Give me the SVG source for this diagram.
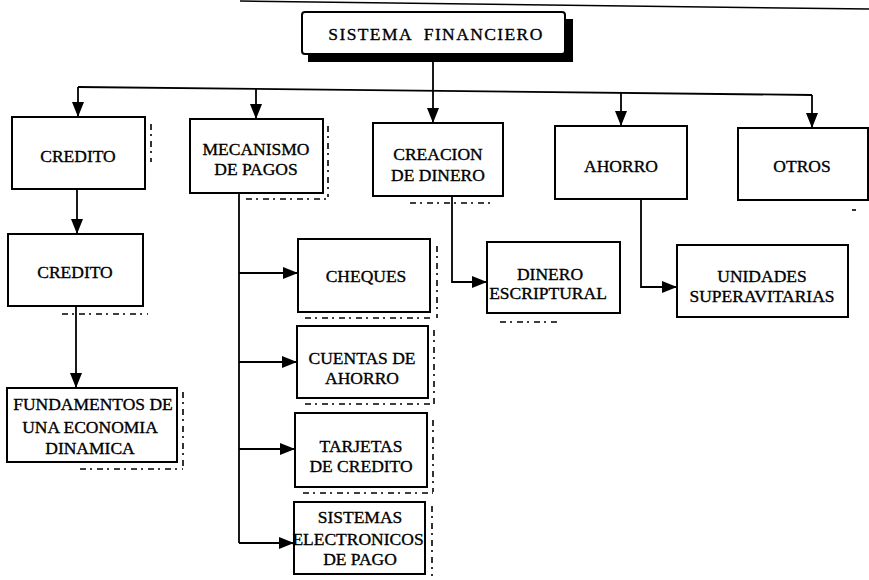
<svg xmlns="http://www.w3.org/2000/svg" width="869" height="580" viewBox="0 0 869 580">
  <style>
    .box { fill: #fff; stroke: #000; stroke-width: 2; }
    .lbl { font-family: "Liberation Serif", "Times New Roman", serif; font-size: 17.5px; fill: #000; stroke: #000; stroke-width: 0.35; text-anchor: middle; }
    .wire { fill: none; stroke: #000; stroke-width: 1.8; }
    .arr { marker-end: url(#head); }
    .ghost { fill: none; stroke: #000; stroke-width: 1.6; stroke-dasharray: 6 4 2 5; }
  </style>
  <defs>
    <marker id="head" markerUnits="userSpaceOnUse" markerWidth="16" markerHeight="12" refX="15" refY="6" orient="auto">
      <path d="M0,0 L15,6 L0,12 Z" fill="#000"/>
    </marker>
  </defs>

  <!-- rule along the top edge -->
  <line x1="240" y1="1" x2="869" y2="9" stroke="#000" stroke-width="1.5"/>

  <!-- connectors -->
  <g id="connectors">
    <line class="wire" x1="433" y1="62" x2="433" y2="91"/>
    <line class="wire" x1="78" y1="87" x2="812" y2="95"/>
    <line class="wire arr" x1="78" y1="87" x2="78" y2="117"/>
    <line class="wire arr" x1="256" y1="89" x2="256" y2="119"/>
    <line class="wire arr" x1="433" y1="91" x2="433" y2="123"/>
    <line class="wire arr" x1="621" y1="93" x2="621" y2="126"/>
    <line class="wire arr" x1="812" y1="95" x2="812" y2="128"/>

    <line class="wire arr" x1="77" y1="189" x2="77" y2="234"/>
    <line class="wire arr" x1="76" y1="306" x2="76" y2="388"/>

    <line class="wire" x1="239" y1="193" x2="239" y2="543"/>
    <line class="wire arr" x1="239" y1="273" x2="298" y2="273"/>
    <line class="wire arr" x1="239" y1="362" x2="297" y2="362"/>
    <line class="wire arr" x1="239" y1="449" x2="295" y2="449"/>
    <line class="wire arr" x1="239" y1="543" x2="294" y2="543"/>

    <polyline class="wire arr" points="452,196 452,282 487,282"/>
    <polyline class="wire arr" points="641,199 641,287 677,287"/>
  </g>

  <!-- nodes -->
  <g id="sistema-financiero">
    <rect x="308" y="19" width="265" height="43" fill="#000"/>
    <rect class="box" x="302" y="12" width="263" height="42" rx="3"/>
    <text class="lbl" x="436" y="40" style="letter-spacing:1.4px; word-spacing:6px">SISTEMA FINANCIERO</text>
  </g>

  <g id="credito">
    <rect class="box" x="12" y="117" width="133" height="72"/>
    <line class="ghost" x1="151" y1="124" x2="151" y2="162"/>
    <text class="lbl" x="78" y="162">CREDITO</text>
  </g>

  <g id="mecanismo-de-pagos">
    <rect class="box" x="190" y="119" width="133" height="74"/>
    <line class="ghost" x1="328" y1="126" x2="328" y2="197"/>
    <line class="ghost" x1="246" y1="199" x2="328" y2="199"/>
    <text class="lbl" x="256" y="155">MECANISMO</text>
    <text class="lbl" x="256" y="175">DE PAGOS</text>
  </g>

  <g id="creacion-de-dinero">
    <rect class="box" x="373" y="123" width="130" height="73"/>
    <line class="ghost" x1="410" y1="203" x2="492" y2="203"/>
    <text class="lbl" x="438" y="160">CREACION</text>
    <text class="lbl" x="438" y="181">DE DINERO</text>
  </g>

  <g id="ahorro">
    <rect class="box" x="555" y="126" width="132" height="73"/>
    <text class="lbl" x="621" y="172">AHORRO</text>
  </g>

  <g id="otros">
    <rect class="box" x="738" y="128" width="130" height="72"/>
    <line class="ghost" x1="852" y1="210" x2="856" y2="210"/>
    <text class="lbl" x="802" y="172">OTROS</text>
  </g>

  <g id="credito-2">
    <rect class="box" x="8" y="234" width="135" height="72"/>
    <line class="ghost" x1="62" y1="314" x2="148" y2="314"/>
    <text class="lbl" x="75" y="278">CREDITO</text>
  </g>

  <g id="fundamentos">
    <rect class="box" x="7" y="388" width="170" height="74"/>
    <line class="ghost" x1="183" y1="392" x2="183" y2="468"/>
    <line class="ghost" x1="80" y1="469" x2="183" y2="469"/>
    <text class="lbl" x="93" y="410">FUNDAMENTOS DE</text>
    <text class="lbl" x="90" y="433">UNA ECONOMIA</text>
    <text class="lbl" x="90" y="454">DINAMICA</text>
  </g>

  <g id="cheques">
    <rect class="box" x="298" y="239" width="132" height="73"/>
    <line class="ghost" x1="437" y1="246" x2="437" y2="318"/>
    <line class="ghost" x1="305" y1="318" x2="430" y2="318"/>
    <text class="lbl" x="366" y="282">CHEQUES</text>
  </g>

  <g id="cuentas-de-ahorro">
    <rect class="box" x="297" y="326" width="131" height="72"/>
    <line class="ghost" x1="434" y1="330" x2="434" y2="404"/>
    <line class="ghost" x1="305" y1="404" x2="434" y2="404"/>
    <text class="lbl" x="362" y="364">CUENTAS DE</text>
    <text class="lbl" x="362" y="384">AHORRO</text>
  </g>

  <g id="tarjetas-de-credito">
    <rect class="box" x="295" y="413" width="132" height="74"/>
    <line class="ghost" x1="433" y1="420" x2="433" y2="492"/>
    <line class="ghost" x1="303" y1="493" x2="433" y2="493"/>
    <text class="lbl" x="361" y="452">TARJETAS</text>
    <text class="lbl" x="361" y="472">DE CREDITO</text>
  </g>

  <g id="sistemas-electronicos">
    <rect class="box" x="294" y="502" width="131" height="72"/>
    <line class="ghost" x1="432" y1="506" x2="432" y2="576"/>
    <text class="lbl" x="360" y="523">SISTEMAS</text>
    <text class="lbl" x="358" y="545">ELECTRONICOS</text>
    <text class="lbl" x="360" y="565">DE PAGO</text>
  </g>

  <g id="dinero-escritural">
    <rect class="box" x="487" y="242" width="133" height="71"/>
    <line class="ghost" x1="500" y1="322" x2="560" y2="322"/>
    <text class="lbl" x="550" y="280">DINERO</text>
    <text class="lbl" x="548" y="299">ESCRIPTURAL</text>
  </g>

  <g id="unidades-superavitarias">
    <rect class="box" x="677" y="245" width="171" height="72"/>
    <text class="lbl" x="762" y="282">UNIDADES</text>
    <text class="lbl" x="762" y="302">SUPERAVITARIAS</text>
  </g>
</svg>
